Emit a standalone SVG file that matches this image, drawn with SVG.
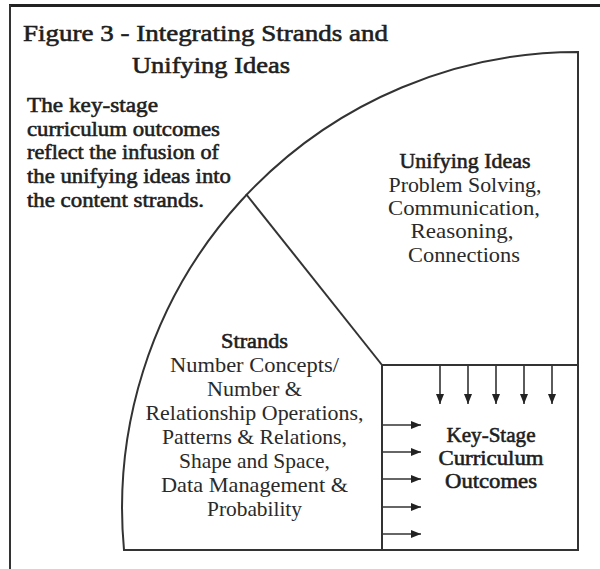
<svg xmlns="http://www.w3.org/2000/svg" width="600" height="569" viewBox="0 0 600 569">
<style>
text{font-family:"Liberation Serif","Times New Roman",serif;fill:#1e1e1e}
.t{font-size:24px;stroke:#1e1e1e;stroke-width:0.6}
.p{font-size:20px;stroke:#1e1e1e;stroke-width:0.55}
.h{font-size:20px;text-anchor:middle;stroke:#1e1e1e;stroke-width:0.55}
.r{font-size:21px;text-anchor:middle;fill:#2a2a2a}
.ln{fill:none;stroke:#333;stroke-width:2}
.ar{fill:none;stroke:#333;stroke-width:1.6}
</style>
<defs>
<marker id="ah" markerUnits="userSpaceOnUse" markerWidth="10" markerHeight="8" viewBox="0 0 10 8" refX="10" refY="4" orient="auto">
<path d="M0,0 L10,4 L0,8 Z" fill="#222"/>
</marker>
</defs>
<rect width="600" height="569" fill="#fff"/>
<g id="frame">
<line x1="9" y1="5.5" x2="600" y2="5.5" stroke="#222" stroke-width="3"/>
<line x1="10" y1="5" x2="10" y2="569" stroke="#333" stroke-width="2"/>
</g>
<g id="title">
<text class="t" x="23" y="41" textLength="365" lengthAdjust="spacingAndGlyphs">Figure 3 - Integrating Strands and</text>
<text class="t" x="132" y="73" textLength="158" lengthAdjust="spacingAndGlyphs">Unifying Ideas</text>
</g>
<g id="note">
<text class="p" x="27" y="112" textLength="131" lengthAdjust="spacingAndGlyphs">The key-stage</text>
<text class="p" x="27" y="136" textLength="193" lengthAdjust="spacingAndGlyphs">curriculum outcomes</text>
<text class="p" x="27" y="159" textLength="192" lengthAdjust="spacingAndGlyphs">reflect the infusion of</text>
<text class="p" x="27" y="183" textLength="204" lengthAdjust="spacingAndGlyphs">the unifying ideas into</text>
<text class="p" x="27" y="207" textLength="177" lengthAdjust="spacingAndGlyphs">the content strands.</text>
</g>
<g id="quadrant">
<path class="ln" d="M124,550 A456,456 0 0 1 578,52 L578,550 Z"/>
<line class="ln" x1="246" y1="194" x2="382" y2="365"/>
</g>
<g id="unifying-ideas">
<text class="h" x="465" y="168" textLength="131" lengthAdjust="spacingAndGlyphs">Unifying Ideas</text>
<text class="r" x="465" y="192" textLength="153" lengthAdjust="spacingAndGlyphs">Problem Solving,</text>
<text class="r" x="464" y="215" textLength="152" lengthAdjust="spacingAndGlyphs">Communication,</text>
<text class="r" x="462" y="238" textLength="103" lengthAdjust="spacingAndGlyphs">Reasoning,</text>
<text class="r" x="464" y="262" textLength="112" lengthAdjust="spacingAndGlyphs">Connections</text>
</g>
<g id="strands">
<text class="h" x="254.5" y="348" textLength="67" lengthAdjust="spacingAndGlyphs">Strands</text>
<text class="r" x="254.5" y="372" textLength="169" lengthAdjust="spacingAndGlyphs">Number Concepts/</text>
<text class="r" x="254.5" y="396" textLength="95" lengthAdjust="spacingAndGlyphs">Number &amp;</text>
<text class="r" x="254.5" y="420" textLength="218" lengthAdjust="spacingAndGlyphs">Relationship Operations,</text>
<text class="r" x="254.5" y="444" textLength="185" lengthAdjust="spacingAndGlyphs">Patterns &amp; Relations,</text>
<text class="r" x="254.5" y="468" textLength="151" lengthAdjust="spacingAndGlyphs">Shape and Space,</text>
<text class="r" x="254.5" y="492" textLength="187" lengthAdjust="spacingAndGlyphs">Data Management &amp;</text>
<text class="r" x="254.5" y="516" textLength="95" lengthAdjust="spacingAndGlyphs">Probability</text>
</g>
<g id="key-stage-outcomes">
<path class="ln" d="M382,550 L382,365 L578,365"/>
<text class="h" x="491" y="442" textLength="89" lengthAdjust="spacingAndGlyphs">Key-Stage</text>
<text class="h" x="491" y="465" textLength="105" lengthAdjust="spacingAndGlyphs">Curriculum</text>
<text class="h" x="491" y="488" textLength="92" lengthAdjust="spacingAndGlyphs">Outcomes</text>
</g>
<g id="connectors">
<line class="ar" x1="440" y1="366" x2="440" y2="404" marker-end="url(#ah)"/>
<line class="ar" x1="468" y1="366" x2="468" y2="404" marker-end="url(#ah)"/>
<line class="ar" x1="496" y1="366" x2="496" y2="404" marker-end="url(#ah)"/>
<line class="ar" x1="524" y1="366" x2="524" y2="404" marker-end="url(#ah)"/>
<line class="ar" x1="552" y1="366" x2="552" y2="404" marker-end="url(#ah)"/>
<line class="ar" x1="383" y1="425" x2="421" y2="425" marker-end="url(#ah)"/>
<line class="ar" x1="383" y1="452" x2="421" y2="452" marker-end="url(#ah)"/>
<line class="ar" x1="383" y1="479" x2="421" y2="479" marker-end="url(#ah)"/>
<line class="ar" x1="383" y1="507" x2="421" y2="507" marker-end="url(#ah)"/>
<line class="ar" x1="383" y1="534" x2="421" y2="534" marker-end="url(#ah)"/>
</g>
</svg>
